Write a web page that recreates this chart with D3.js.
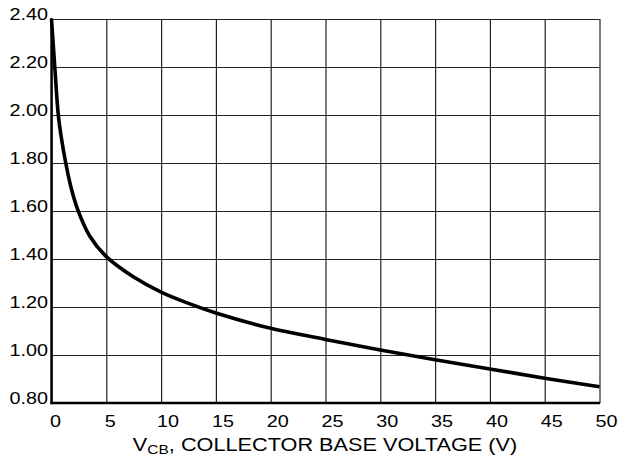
<!DOCTYPE html>
<html><head><meta charset="utf-8">
<script src="https://cdn.jsdelivr.net/npm/d3@7"></script>
<style>body{margin:0;background:#fff}svg{display:block}</style>
</head><body>
<svg id="c" width="619" height="460"></svg>
<script>
const vcb = [0, 0.3, 0.62, 0.9, 1.3, 1.8, 2.4, 3.5, 5, 7.5, 10, 12.5, 15, 20, 25, 30, 35, 40, 45, 50];
const cap = [2.40, 2.20, 2.00, 1.905, 1.80, 1.695, 1.605, 1.495, 1.41, 1.325, 1.262, 1.215, 1.175, 1.111, 1.065, 1.021, 0.980, 0.942, 0.903, 0.868];
const xTicks = [0, 5, 10, 15, 20, 25, 30, 35, 40, 45, 50];
const yTicks = [0.80, 1.00, 1.20, 1.40, 1.60, 1.80, 2.00, 2.20, 2.40];
const xTitleMain = "V";
const xTitleSub = "CB";
const xTitleRest = ", COLLECTOR BASE VOLTAGE (V)";

const L = 51.5, R = 599.5, T = 19, B = 403;
const svg = d3.select("#c");
const x = d3.scaleLinear().domain([0, 50]).range([L, R]);
const y = d3.scaleLinear().domain([0.8, 2.4]).range([B, T]);
const font = "'Liberation Sans', Arial, Helvetica, sans-serif";

// grid via axes
svg.append("g").attr("transform", `translate(0,${B})`)
  .call(d3.axisBottom(x).tickValues(xTicks).tickSize(-(B - T)).tickFormat(""))
  .call(g => g.select(".domain").remove())
  .selectAll("line").attr("stroke", "#222").attr("stroke-width", 1.2);
svg.append("g").attr("transform", `translate(${L},0)`)
  .call(d3.axisLeft(y).tickValues(yTicks).tickSize(-(R - L)).tickFormat(""))
  .call(g => g.select(".domain").remove())
  .selectAll("line").attr("stroke", "#222").attr("stroke-width", 1.2);

// frame
svg.append("line").attr("x1", L).attr("x2", L).attr("y1", T - 1).attr("y2", B + 1.2).attr("stroke", "#000").attr("stroke-width", 2.4);
svg.append("line").attr("x1", L - 1).attr("x2", R + 0.6).attr("y1", B).attr("y2", B).attr("stroke", "#000").attr("stroke-width", 2.4);

// curve
const line = d3.line().x((d, i) => x(vcb[i])).y(d => y(d)).curve(d3.curveCatmullRom.alpha(0.5));
svg.append("path").datum(cap).attr("d", line).attr("fill", "none")
  .attr("stroke", "#000").attr("stroke-width", 3.6).attr("stroke-linecap", "butt");

// y labels
svg.append("g").selectAll("text").data(yTicks).join("text")
  .attr("transform", d => `translate(48,${y(d) + 1}) scale(1.2,1)`)
  .attr("text-anchor", "end").attr("font-family", font).attr("font-size", 16.5).attr("fill", "#000")
  .text(d => d.toFixed(2));

// x labels
svg.append("g").selectAll("text").data(xTicks).join("text")
  .attr("transform", d => `translate(${x(d) + (String(d).length === 1 ? 4 : 7)},427) scale(1.2,1)`)
  .attr("text-anchor", "middle").attr("font-family", font).attr("font-size", 16.5).attr("fill", "#000")
  .text(d => String(d));

// title
const t = svg.append("text").attr("transform", "translate(325,451) scale(1.24,1)")
  .attr("text-anchor", "middle").attr("font-family", font).attr("font-size", 17.5).attr("fill", "#000");
t.append("tspan").text(xTitleMain);
t.append("tspan").attr("font-size", 12.5).attr("dy", 3).text(xTitleSub);
t.append("tspan").attr("dy", -3).text(xTitleRest);
</script>
</body></html>
